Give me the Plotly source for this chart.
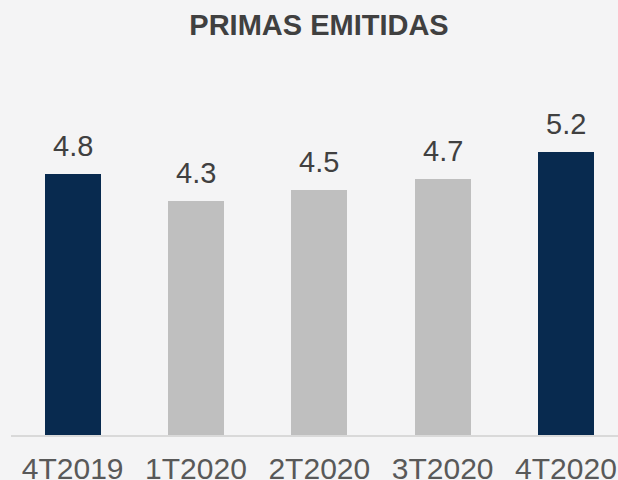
import plotly.graph_objects as go

categories = ["4T2019", "1T2020", "2T2020", "3T2020", "4T2020"]
values = [4.8, 4.3, 4.5, 4.7, 5.2]
labels = ["4.8", "4.3", "4.5", "4.7", "5.2"]
bar_colors = ["#082a4f", "#bfbfbf", "#bfbfbf", "#bfbfbf", "#082a4f"]

FONT = "Liberation Sans, Arial, sans-serif"
BG = "#f4f4f5"

fig = go.Figure()
fig.add_trace(go.Bar(
    x=list(range(len(categories))),
    y=values,
    width=0.455,
    marker=dict(color=bar_colors, line=dict(width=0)),
    hoverinfo="skip",
))

annotations = []
for i, (v, t) in enumerate(zip(values, labels)):
    annotations.append(dict(
        x=i, y=v, xref="x", yref="y", text=t, showarrow=False,
        yanchor="bottom", xanchor="center", yshift=10,
        font=dict(family=FONT, size=29, color="#404040"),
    ))

fig.update_layout(
    width=618, height=480,
    paper_bgcolor=BG, plot_bgcolor=BG,
    margin=dict(l=11, r=0, t=60, b=45, autoexpand=False),
    showlegend=False,
    title=dict(
        text="<b>PRIMAS EMITIDAS</b>",
        x=319/618, xanchor="center", xref="container",
        y=1 - 15/480, yanchor="top", yref="container",
        font=dict(family=FONT, size=29, color="#404040"),
    ),
    annotations=annotations,
    xaxis=dict(
        tickmode="array", tickvals=list(range(len(categories))), ticktext=categories,
        range=[-0.5, 4.422], showgrid=False, zeroline=False,
        showline=True, linecolor="#d9d9d9", linewidth=1.5,
        ticks="", automargin=False, ticklabelstandoff=6,
        tickfont=dict(family=FONT, size=30, color="#595959"),
        fixedrange=True,
    ),
    yaxis=dict(
        range=[0, 375/54.45], visible=False, showgrid=False, zeroline=False,
        automargin=False, fixedrange=True,
    ),
    bargap=0,
)

fig.write_html(
    "out.html",
    config={"displayModeBar": False},
    post_script="document.body.style.margin='0';document.body.style.padding='0';document.body.style.overflow='hidden';document.body.style.background='#f4f4f5';",
)
